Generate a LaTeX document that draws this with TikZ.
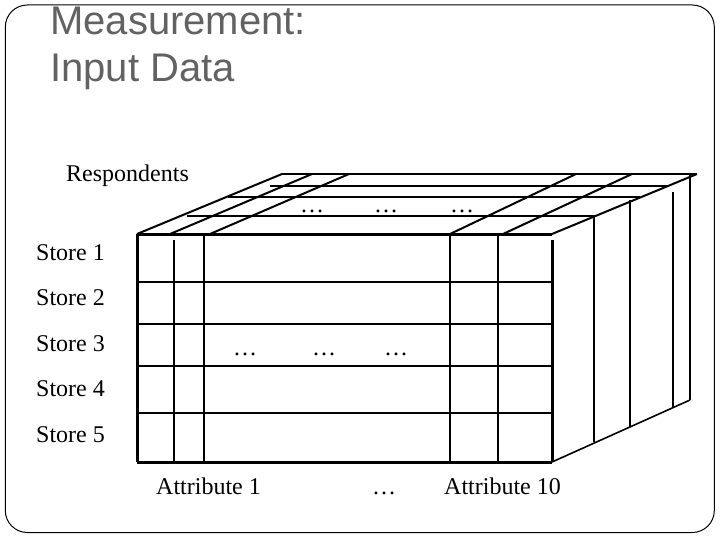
\documentclass[tikz,border=0pt]{standalone}
\usepackage{fontspec}
\setmainfont{Liberation Serif}
\newfontfamily\titlefont{Liberation Sans}
\definecolor{titlegray}{RGB}{98,98,98}
\begin{document}
\begin{tikzpicture}[x=1pt,y=-1pt,
  frontedge/.style={line width=3pt},
  frontgrid/.style={line width=2.2pt},
  topgrid/.style={line width=2pt},
  sidegrid/.style={line width=1.6pt},
  lbl/.style={inner sep=0pt, font=\fontsize{24}{28}\selectfont},
  ttl/.style={inner sep=0pt, text=titlegray, font=\titlefont\fontsize{40}{47}\selectfont}]
\useasboundingbox (0,0) rectangle (720,540);
% frame
\draw[line width=1pt, rounded corners=22pt] (5.3,5) rectangle (714.3,532.5);
% title
\node[ttl, anchor=base west] (t1) at (50,35) {Measurement:};
\node[ttl, anchor=base west] (t2) at (50,82) {Input Data};
% corners
\coordinate (ftl) at (137,234);
\coordinate (ftr) at (552,234);
\coordinate (fbl) at (137,462);
\coordinate (fbr) at (552,462);
\coordinate (btl) at (282,174);
\coordinate (btr) at (697,174);
\coordinate (bbr) at (690,400);
% top face receding lines
\draw[topgrid] (ftl) -- (btl);
\draw[topgrid] (170,234) -- (312,174);
\draw[topgrid] (210,234) -- (349,174);
\draw[topgrid] (450,234) -- (576,174);
\draw[topgrid] (503,234) -- (632,174);
\draw[topgrid] (ftr) -- (btr);
% top face horizontal lines
\draw[topgrid] (btl) -- (btr);
\draw[topgrid] (270,186) -- (668,186);
\draw[topgrid] (228,197.3) -- (640,197.3);
\draw[topgrid] (187,215.7) -- (595,215.7);
% right face
\draw[sidegrid] (594,216.5) -- (594,442);
\draw[sidegrid] (630,200) -- (630,427);
\draw[sidegrid] (673,192) -- (673,408);
\draw[sidegrid] (690,175) -- (bbr);
\draw[sidegrid] (fbr) -- (bbr);
% front face grid
\foreach \yy in {281.7,324,365.7,413} \draw[frontgrid] (137,\yy) -- (552,\yy);
\draw[frontgrid] (173.7,240) -- (173.7,462);
\draw[frontgrid] (203.7,234) -- (203.7,462);
\draw[frontgrid] (450,234) -- (450,462);
\draw[frontgrid] (498,234) -- (498,462);
% front face edges
\draw[frontedge] (ftl) -- (ftr);
\draw[frontedge] (ftl) -- (fbl);
\draw[frontedge] (fbl) -- (fbr);
\draw[frontedge] (552,240) -- (fbr);
% labels
\node[lbl, anchor=base west] (resp) at (66,182) {Respondents};
\node[lbl, anchor=base west] (s1) at (36,260) {Store 1};
\node[lbl, anchor=base west] (s2) at (36,305) {Store 2};
\node[lbl, anchor=base west] (s3) at (36,351) {Store 3};
\node[lbl, anchor=base west] (s4) at (36,396) {Store 4};
\node[lbl, anchor=base west] (s5) at (36,442) {Store 5};
\node[lbl, anchor=base west] (a1) at (156,494) {Attribute 1};
\node[lbl, anchor=base] (adots) at (384,494) {…};
\node[lbl, anchor=base west] (a10) at (444,494) {Attribute 10};
% dots in front
\node[lbl, anchor=base] (fd1) at (245,355) {…};
\node[lbl, anchor=base] (fd2) at (324,355) {…};
\node[lbl, anchor=base] (fd3) at (396,355) {…};
% dots on top
\node[lbl, anchor=base] (td1) at (312,212) {…};
\node[lbl, anchor=base] (td2) at (386,212) {…};
\node[lbl, anchor=base] (td3) at (462,212) {…};
\end{tikzpicture}
\end{document}
